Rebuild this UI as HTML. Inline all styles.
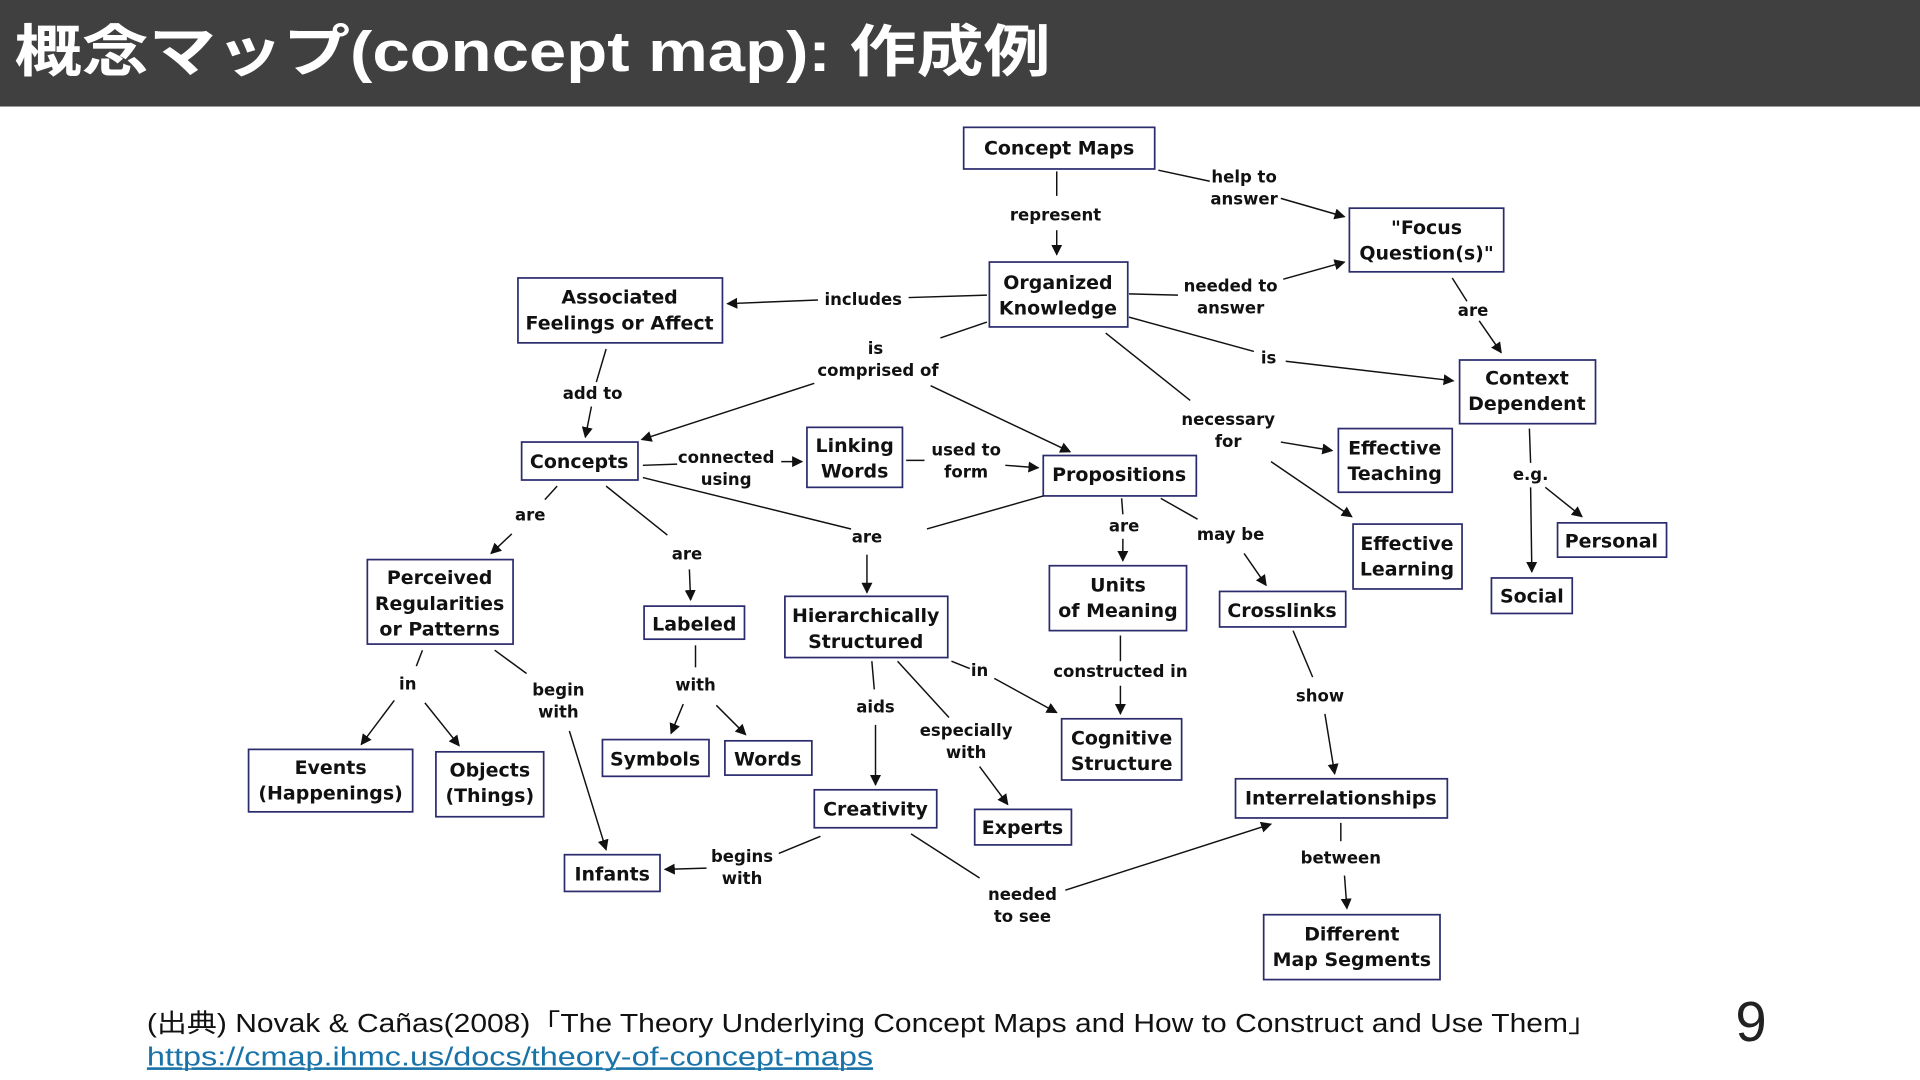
<!DOCTYPE html>
<html><head><meta charset="utf-8"><style>
html,body{margin:0;padding:0;background:#fff;}
svg{display:block;}
.n rect{fill:#fff;stroke:#2b2b6e;stroke-width:1.4;}
.n text,.lb{font-family:"DejaVu Sans","Liberation Sans",sans-serif;font-weight:bold;text-anchor:middle;fill:#111;}
.n text{font-size:15.5px;}
.lb{font-size:13.5px;}
.l{stroke:#111;stroke-width:1.2;fill:none;}
.a{stroke:#111;stroke-width:1.2;fill:none;marker-end:url(#ar);}
</style></head><body>
<svg width="1920" height="1080" viewBox="0 0 1568 882" xmlns="http://www.w3.org/2000/svg">
<defs><marker id="ar" viewBox="0 0 10 10" refX="9" refY="5" markerWidth="9" markerHeight="9" markerUnits="userSpaceOnUse" orient="auto"><path d="M0,0 L10,5 L0,10 z" fill="#111"/></marker></defs>
<rect x="0" y="0" width="1568" height="87" fill="#404040"/>
<text x="12" y="58" font-family="'Liberation Sans','Noto Sans CJK JP',sans-serif" font-weight="bold" font-size="46" fill="#fff" textLength="846" lengthAdjust="spacingAndGlyphs">概念マップ(concept map): 作成例</text>

<g class="n">
<rect x="787" y="104" width="156" height="34"/><text x="865" y="126">Concept Maps</text>
<rect x="1102" y="170" width="126" height="52"/><text x="1165" y="191">"Focus</text><text x="1165" y="212">Question(s)"</text>
<rect x="808" y="214" width="113" height="53"/><text x="864" y="236">Organized</text><text x="864" y="257">Knowledge</text>
<rect x="423" y="227" width="167" height="53"/><text x="506" y="248">Associated</text><text x="506" y="269">Feelings or Affect</text>
<rect x="1192" y="294" width="111" height="52"/><text x="1247" y="314">Context</text><text x="1247" y="335">Dependent</text>
<rect x="426" y="361" width="95" height="31"/><text x="473" y="382">Concepts</text>
<rect x="659" y="349" width="78" height="49"/><text x="698" y="369">Linking</text><text x="698" y="390">Words</text>
<rect x="852" y="372" width="125" height="33"/><text x="914" y="393">Propositions</text>
<rect x="1093" y="350" width="93" height="52"/><text x="1139" y="371">Effective</text><text x="1139" y="392">Teaching</text>
<rect x="1105" y="428" width="89" height="53"/><text x="1149" y="449">Effective</text><text x="1149" y="470">Learning</text>
<rect x="1272" y="427" width="89" height="28"/><text x="1316" y="447">Personal</text>
<rect x="1218" y="472" width="66" height="29"/><text x="1251" y="492">Social</text>
<rect x="300" y="457" width="119" height="69"/><text x="359" y="477">Perceived</text><text x="359" y="498">Regularities</text><text x="359" y="519">or Patterns</text>
<rect x="526" y="495" width="82" height="27"/><text x="567" y="515">Labeled</text>
<rect x="641" y="487" width="133" height="50"/><text x="707" y="508">Hierarchically</text><text x="707" y="529">Structured</text>
<rect x="857" y="462" width="112" height="53"/><text x="913" y="483">Units</text><text x="913" y="504">of Meaning</text>
<rect x="996" y="483" width="103" height="29"/><text x="1047" y="504">Crosslinks</text>
<rect x="203" y="612" width="134" height="51"/><text x="270" y="632">Events</text><text x="270" y="653">(Happenings)</text>
<rect x="356" y="614" width="88" height="53"/><text x="400" y="634">Objects</text><text x="400" y="655">(Things)</text>
<rect x="492" y="604" width="87" height="30"/><text x="535" y="625">Symbols</text>
<rect x="592" y="605" width="71" height="28"/><text x="627" y="625">Words</text>
<rect x="665" y="645" width="100" height="31"/><text x="715" y="666">Creativity</text>
<rect x="867" y="587" width="98" height="50"/><text x="916" y="608">Cognitive</text><text x="916" y="629">Structure</text>
<rect x="796" y="661" width="79" height="29"/><text x="835" y="681">Experts</text>
<rect x="1009" y="636" width="173" height="32"/><text x="1095" y="657">Interrelationships</text>
<rect x="461" y="698" width="78" height="30"/><text x="500" y="719">Infants</text>
<rect x="1032" y="747" width="144" height="53"/><text x="1104" y="768">Different</text><text x="1104" y="789">Map Segments</text>
</g>

<g>
<line class="l" x1="863" y1="140" x2="863" y2="160"/><line class="a" x1="863" y1="188" x2="863" y2="208"/>
<line class="l" x1="946" y1="139" x2="988" y2="148"/><line class="a" x1="1046" y1="162" x2="1098" y2="177"/>
<line class="l" x1="922" y1="240" x2="962" y2="241"/><line class="a" x1="1048" y1="228" x2="1098" y2="214"/>
<line class="l" x1="806" y1="241" x2="742" y2="243"/><line class="a" x1="668" y1="245" x2="594" y2="248"/>
<line class="l" x1="1186" y1="227" x2="1198" y2="246"/><line class="a" x1="1208" y1="262" x2="1226" y2="288"/>
<line class="l" x1="922" y1="259" x2="1024" y2="287"/><line class="a" x1="1050" y1="295" x2="1187" y2="311"/>
<line class="l" x1="806" y1="263" x2="768" y2="276"/><line class="a" x1="665" y1="313" x2="524" y2="359"/><line class="a" x1="760" y1="315" x2="874" y2="369"/>
<line class="l" x1="903" y1="272" x2="972" y2="327"/><line class="a" x1="1046" y1="361" x2="1088" y2="368"/><line class="a" x1="1038" y1="377" x2="1104" y2="422"/>
<line class="l" x1="495" y1="285" x2="487" y2="312"/><line class="a" x1="483" y1="332" x2="478" y2="357"/>
<line class="l" x1="1249" y1="350" x2="1250" y2="378"/><line class="a" x1="1250" y1="398" x2="1251" y2="467"/><line class="a" x1="1262" y1="398" x2="1292" y2="422"/>
<line class="l" x1="525" y1="380" x2="553" y2="379"/><line class="a" x1="638" y1="377" x2="655" y2="377"/>
<line class="l" x1="740" y1="376" x2="755" y2="376"/><line class="a" x1="821" y1="380" x2="848" y2="382"/>
<line class="l" x1="525" y1="390" x2="695" y2="432"/><line class="l" x1="852" y1="405" x2="757" y2="432"/><line class="a" x1="708" y1="453" x2="708" y2="484"/>
<line class="l" x1="455" y1="397" x2="445" y2="408"/><line class="a" x1="418" y1="436" x2="401" y2="452"/>
<line class="l" x1="495" y1="397" x2="545" y2="437"/><line class="a" x1="563" y1="465" x2="564" y2="490"/>
<line class="l" x1="916" y1="407" x2="917" y2="420"/><line class="a" x1="917" y1="440" x2="917" y2="458"/>
<line class="l" x1="948" y1="407" x2="978" y2="424"/><line class="a" x1="1016" y1="452" x2="1034" y2="478"/>
<line class="l" x1="345" y1="531" x2="340" y2="544"/><line class="a" x1="322" y1="572" x2="295" y2="608"/><line class="a" x1="347" y1="574" x2="375" y2="609"/>
<line class="l" x1="404" y1="531" x2="430" y2="550"/><line class="a" x1="465" y1="597" x2="495" y2="694"/>
<line class="l" x1="568" y1="527" x2="568" y2="545"/><line class="a" x1="558" y1="575" x2="548" y2="599"/><line class="a" x1="585" y1="576" x2="609" y2="600"/>
<line class="l" x1="712" y1="540" x2="714" y2="563"/><line class="a" x1="715" y1="592" x2="715" y2="641"/>
<line class="l" x1="733" y1="540" x2="775" y2="586"/><line class="a" x1="800" y1="626" x2="823" y2="657"/>
<line class="l" x1="777" y1="540" x2="792" y2="546"/><line class="a" x1="812" y1="554" x2="863" y2="582"/>
<line class="l" x1="915" y1="519" x2="915" y2="540"/><line class="a" x1="915" y1="560" x2="915" y2="583"/>
<line class="l" x1="1056" y1="515" x2="1072" y2="553"/><line class="a" x1="1082" y1="583" x2="1090" y2="632"/>
<line class="l" x1="670" y1="683" x2="636" y2="697"/><line class="a" x1="577" y1="709" x2="543" y2="710"/>
<line class="l" x1="744" y1="681" x2="800" y2="717"/><line class="a" x1="870" y1="727" x2="1038" y2="673"/>
<line class="l" x1="1095" y1="672" x2="1095" y2="687"/><line class="a" x1="1098" y1="715" x2="1100" y2="742"/>
</g>

<g class="lb">
<text class="lb" x="862" y="180">represent</text>
<text class="lb" x="1016" y="149">help to</text><text class="lb" x="1016" y="167">answer</text>
<text class="lb" x="1005" y="238">needed to</text><text class="lb" x="1005" y="256">answer</text>
<text class="lb" x="705" y="249">includes</text>
<text class="lb" x="1203" y="258">are</text>
<text class="lb" x="1036" y="297">is</text>
<text class="lb" x="715" y="289">is</text><text class="lb" x="717" y="307">comprised of</text>
<text class="lb" x="1003" y="347">necessary</text><text class="lb" x="1003" y="365">for</text>
<text class="lb" x="484" y="326">add to</text>
<text class="lb" x="1250" y="392">e.g.</text>
<text class="lb" x="593" y="378">connected</text><text class="lb" x="593" y="396">using</text>
<text class="lb" x="789" y="372">used to</text><text class="lb" x="789" y="390">form</text>
<text class="lb" x="708" y="443">are</text>
<text class="lb" x="433" y="425">are</text>
<text class="lb" x="561" y="457">are</text>
<text class="lb" x="918" y="434">are</text>
<text class="lb" x="1005" y="441">may be</text>
<text class="lb" x="333" y="563">in</text>
<text class="lb" x="456" y="568">begin</text><text class="lb" x="456" y="586">with</text>
<text class="lb" x="568" y="564">with</text>
<text class="lb" x="715" y="582">aids</text>
<text class="lb" x="789" y="601">especially</text><text class="lb" x="789" y="619">with</text>
<text class="lb" x="800" y="552">in</text>
<text class="lb" x="915" y="553">constructed in</text>
<text class="lb" x="1078" y="573">show</text>
<text class="lb" x="606" y="704">begins</text><text class="lb" x="606" y="722">with</text>
<text class="lb" x="835" y="735">needed</text><text class="lb" x="835" y="753">to see</text>
<text class="lb" x="1095" y="705">between</text>
</g>

<text x="120" y="843" font-family="'Liberation Sans','Noto Sans CJK JP',sans-serif" font-size="21" fill="#111" textLength="1185" lengthAdjust="spacingAndGlyphs">(出典) Novak &amp; Cañas(2008)「The Theory Underlying Concept Maps and How to Construct and Use Them」</text>
<text x="120" y="870" font-family="'Liberation Sans',sans-serif" font-size="21" fill="#1a73a8" text-decoration="underline" textLength="593" lengthAdjust="spacingAndGlyphs">https://cmap.ihmc.us/docs/theory-of-concept-maps</text>
<line x1="120" y1="873" x2="713" y2="873" stroke="#1a73a8" stroke-width="1.2"/>
<text x="1430" y="850" font-family="'Liberation Sans',sans-serif" font-size="46" fill="#222" text-anchor="middle">9</text>
</svg>
</body></html>
